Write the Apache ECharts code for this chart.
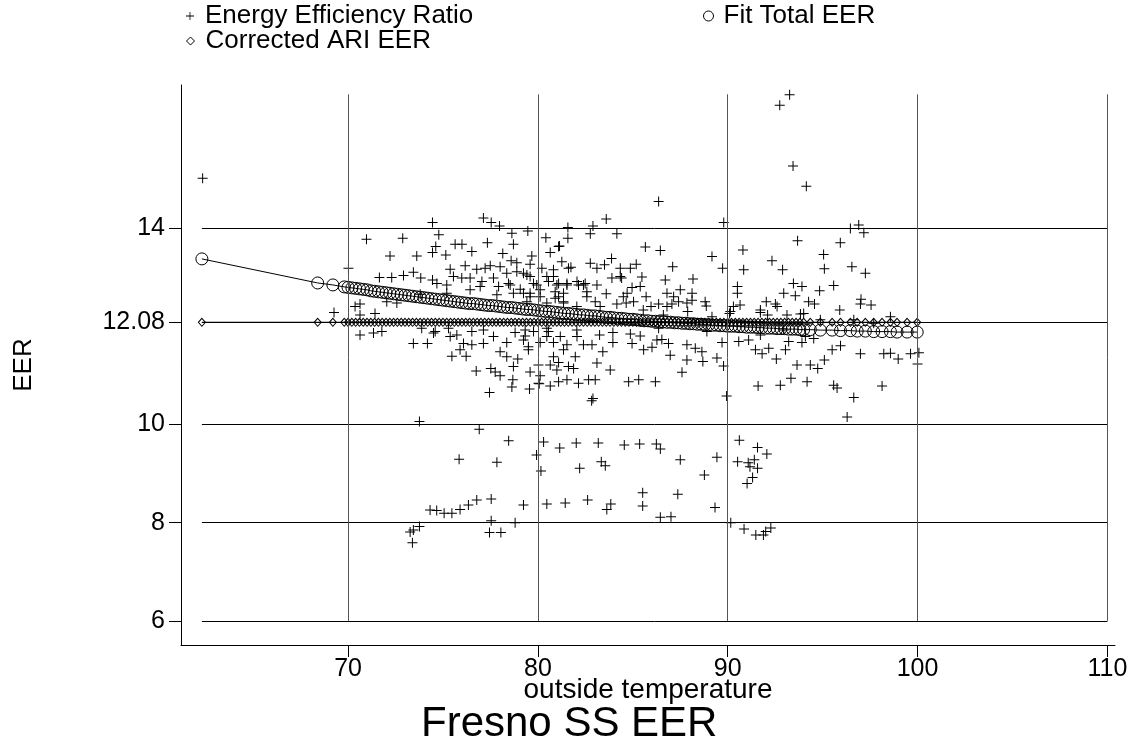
<!DOCTYPE html>
<html>
<head>
<meta charset="utf-8">
<script src="https://cdn.jsdelivr.net/npm/echarts@6/dist/echarts.min.js"></script>
<style>
html,body{margin:0;padding:0;background:#fff;}
#chart{width:1131px;height:743px;}
</style>
</head>
<body>
<div id="chart"></div>
<script>
const FONT = "'Liberation Sans', Arial, Helvetica, sans-serif";

const xTicks = [70, 80, 90, 100, 110];
const yTicks = [6, 8, 10, 12.08, 14];

// extent of the reference grid lines (data range)
const gridXRange = [62.3, 110];
const gridYRange = [6, 16.72];

// Energy Efficiency Ratio observations [outside temperature, EER]
const eerPoints = [
  [62.34,15.01],[74.45,14.11],[77.13,14.20],[77.54,14.11],[77.98,14.04],[78.63,13.89],[79.47,13.94],[81.58,14.01],[81.58,13.79],[80.42,13.80],
  [70.97,13.77],[72.88,13.79],[74.78,13.86],[74.62,13.62],[74.45,13.50],[72.21,13.43],[73.62,13.43],[75.15,13.45],[75.64,13.67],[76.0,13.67],
  [76.52,13.52],[77.34,13.70],[78.71,13.67],[78.15,13.48],[79.68,13.43],[80.65,13.50],[81.09,13.62],[70.02,13.18],[71.65,12.99],[72.30,12.99],
  [72.92,13.03],[73.44,13.10],[73.83,12.98],[74.45,12.94],[74.68,12.87],[75.38,13.16],[76.17,13.23],[76.78,13.16],[77.22,13.18],[77.49,13.23],
  [75.99,12.98],[76.43,12.98],[77.05,12.91],[77.93,12.81],[78.54,12.84],[79.07,12.75],[79.59,13.26],[78.59,13.33],[78.89,13.29],[80.21,13.18],
  [81.26,13.31],[81.61,13.18],[80.56,12.91],[81.53,12.87],[82.06,12.91],
  [70.63,11.82],[71.34,11.86],[71.78,11.89],[69.26,12.28],[70.63,12.23],[70.63,12.45],[70.37,12.40],[71.42,12.26],[72.04,12.50],[72.57,12.47],
  [73.44,11.65],[74.18,11.65],[74.59,11.89],[75.38,11.79],[75.73,11.82],[76.08,11.65],[76.52,11.62],[77.13,11.65],[77.13,11.92],[75.47,11.39],
  [75.9,11.52],[76.22,11.39],[76.75,11.09],[77.52,11.14],[77.75,11.07],[78.01,10.99],[77.45,10.65],[78.63,10.76],[78.68,10.91],[79.56,10.72],
  [78.36,11.67],[78.80,11.87],[79.33,11.80],[79.5,11.58],[78.94,11.33],[78.36,11.38],[79.59,11.07],[80.03,11.21],[80.12,10.99],[80.12,11.67],
  [80.56,11.89],[80.82,11.67],[81.18,11.79],[81.53,11.62],[80.65,11.21],[81.09,11.26],[81.0,11.11],[81.61,11.18],[80.65,10.78],[81.09,10.87],
  [81.53,10.91],[81.97,11.38],[82.06,11.79],
  [79.42,12.50],[81.09,12.60],[81.35,12.50],[79.24,12.67],[77.84,12.64],[75.2,12.67],[73.8,12.65],
  [86.36,14.54],[89.79,14.11],[82.9,14.04],[83.6,14.18],[82.76,13.88],[84.16,13.88],[81.14,13.63],[85.66,13.61],[86.45,13.54],[89.17,13.42],
  [89.73,13.18],[90.80,13.55],[90.84,13.15],[92.33,13.33],[92.89,13.15],[93.68,13.74],[95.05,13.46],[95.09,13.17],[95.93,13.70],[96.46,13.99],
  [96.9,14.06],[97.17,13.90],[96.54,13.21],[97.25,13.08],[95.58,12.83],[94.84,12.72],[93.46,12.87],[93.91,12.81],[93.56,12.62],[92.95,12.67],
  [92.51,12.45],[92.03,12.50],[91.72,12.28],[92.1,12.23],[94.26,12.50],[94.57,12.45],[95.9,12.33],[97.02,12.55],[96.99,12.45],[97.55,12.43],
  [98.57,12.19],[93.83,12.25],[90.51,12.81],[90.51,12.67],[90.3,12.40],[90.65,12.43],[90.09,12.26],[88.81,12.50],[88.87,12.41],[88.17,12.96],
  [88.12,12.67],[87.5,12.74],[87.15,12.60],[87.41,12.50],[86.8,12.67],[87.06,12.45],[86.71,12.94],[87.1,13.21],[85.48,13.0],[85.39,12.81],
  [85.7,12.60],[84.41,12.98],[83.88,13.38],[84.34,13.18],[84.87,13.18],[85.18,13.26],[83.51,13.25],[83.11,13.18],[82.76,13.28],[81.74,13.20],
  [82.4,12.84],[83.11,12.84],[83.9,12.98],[84.34,13.01],[83.6,12.66],[82.58,12.60],[80.91,12.57],[81.35,12.47],[84.7,12.67],[84.96,12.79],
  [84.16,12.45],[84.65,12.47],[85.04,12.50],[86.36,12.45],[85.96,12.40],[88.12,12.53],[87.89,12.30],
  [82.4,11.62],[82.85,11.62],[83.25,11.82],[83.95,11.87],[83.95,11.67],[83.42,11.48],[84.87,11.84],[84.96,11.65],[85.39,11.80],[85.57,11.52],
  [86.01,11.57],[86.27,11.72],[86.53,11.73],[86.88,11.65],[86.97,11.41],[87.85,11.62],[87.59,11.06],[87.85,11.31],[88.29,11.55],[88.64,11.48],
  [88.69,11.28],[89.43,11.35],[89.7,11.67],[89.78,11.19],[90.58,11.69],[91.1,11.72],[91.46,11.52],[91.81,11.44],[92.16,11.55],[92.56,11.33],
  [93.04,11.52],[93.21,11.69],[93.65,11.21],[93.91,11.67],[94.35,11.21],[94.74,11.14],[95.09,11.31],[95.5,11.52],[95.94,11.60],[96.99,11.44],
  [98.22,11.44],[98.57,11.45],[98.98,11.33],[99.63,11.44],[100.07,11.46],[100.0,11.23],[91.6,10.78],[92.77,10.80],[93.33,10.94],[94.18,10.87],
  [95.58,10.80],[95.76,10.74],[96.64,10.55],[98.13,10.78],[89.94,10.58],[82.9,10.53],[83.11,11.25],[82.14,10.84],[82.67,10.91],[83.02,10.91],
  [84.78,10.87],[85.31,10.91],[86.19,10.87],[83.81,11.11],[81.88,11.14],
  [73.76,10.06],[76.91,9.90],[78.46,9.67],[80.3,9.64],[81.15,9.52],[82.02,9.62],[79.93,9.38],[80.16,9.05],[75.85,9.29],[77.84,9.23],
  [82.2,9.11],[74.32,8.26],[74.67,8.25],[75.06,8.19],[75.47,8.19],[75.9,8.27],[76.34,8.36],[76.78,8.46],[77.54,8.48],[79.24,8.36],
  [80.47,8.38],[81.44,8.40],[77.54,8.04],[78.80,8.0],[77.45,7.80],[78.05,7.80],[73.27,7.81],[73.44,7.85],[73.76,7.92],[73.39,7.59],
  [80.07,10.83],[82.83,10.48],[96.29,10.15],[83.18,9.62],[84.55,9.58],[85.36,9.60],[86.24,9.60],[86.45,9.50],[83.34,9.24],[83.55,9.16],
  [87.50,9.28],[89.43,9.33],[88.77,8.97],[90.61,9.68],[91.57,9.53],[92.06,9.40],[90.52,9.24],[91.08,9.22],[91.40,9.28],[91.17,9.14],
  [91.57,9.11],[91.31,8.92],[91.02,8.80],[82.62,8.46],[83.84,8.38],[83.63,8.27],[85.52,8.61],[85.52,8.34],[87.37,8.58],[89.33,8.31],
  [86.45,8.11],[87.01,8.12],[90.16,8.0],[90.86,7.87],[91.48,7.75],[91.88,7.75],[92.0,7.82],[92.27,7.89],
  [92.74,16.50],[93.26,16.71],[93.44,15.26],[94.14,14.85],
  [79.24,13.08],[79.59,13.01],[79.94,12.84],[80.82,13.01],[81.09,12.87],[81.53,12.84],[82.14,12.84],[82.49,12.87],[80.91,12.70],[81.35,12.67],
  [82.58,12.70],[83.02,12.50],[83.28,12.40],[82.05,12.40],[79.59,12.67],[80.12,12.60],[80.47,12.47],[84.5,12.60],[85.55,12.33],[86.61,12.23],
  [86.8,12.40],[87.85,12.47],[89.17,12.19],[90.14,12.30],[91.72,12.33],[92.6,12.40],[93.12,12.23],[94.0,12.26],[94.88,12.13],[96.64,12.13],
  [97.69,12.06],[79.33,11.92],[80.47,11.96],[82.05,11.92],[86.36,11.96],[88.9,11.89],[91.72,11.82],[92.95,11.92],[94.09,11.79],[94.53,11.75],
  [75.55,13.01],[76.96,12.81],[77.66,12.98],[78.45,12.87],[78.71,12.67],[79.59,12.60],[80.12,12.74],[80.47,13.01],[81.0,12.84],[79.42,13.04],
  [79.77,12.87],[80.82,13.15],[78.01,13.21],[78.36,13.08],[78.89,13.11],[75.2,12.84],[76.43,12.74],
  [73.88,11.96],[74.5,11.86],[75.29,11.96],[76.52,11.89],[77.66,11.79],[79.24,11.72],[79.77,11.89],[80.47,11.79],[81.35,11.52],[80.82,11.38],
  [79.5,11.52],[78.01,11.48],[78.71,11.18],[80.03,10.84]
];

// fitted curve and corrected ARI value, read at observation temperatures
const fitTemps = [
  62.3,68.4,69.2,
  69.8,70.0,70.2,70.4,70.6,70.8,71.0,71.2,71.4,71.6,
  71.8,72.0,72.2,72.4,72.6,72.8,73.0,73.2,73.4,73.6,
  73.8,74.0,74.2,74.4,74.6,74.8,75.0,75.2,75.4,75.6,
  75.8,76.0,76.2,76.4,76.6,76.8,77.0,77.2,77.4,77.6,
  77.8,78.0,78.2,78.4,78.6,78.8,79.0,79.2,79.4,79.6,
  79.8,80.0,80.2,80.4,80.6,80.8,81.0,81.2,81.4,81.6,
  81.8,82.0,82.2,82.4,82.6,82.8,83.0,83.2,83.4,83.6,
  83.8,84.0,84.2,84.4,84.6,84.8,85.0,85.2,85.4,85.6,
  85.8,86.0,86.2,86.4,86.6,86.8,87.0,87.2,87.4,87.6,
  87.8,88.0,88.2,88.4,88.6,88.8,89.0,89.2,89.4,89.6,
  89.8,90.0,90.2,90.4,90.6,90.8,91.0,91.2,91.4,91.6,
  91.8,92.0,92.2,92.4,92.6,92.8,93.0,93.2,93.4,93.6,
  93.8,94.0,
  94.35,94.88,95.5,95.94,96.46,96.82,97.25,97.69,98.13,98.57,
  98.92,99.45,99.98
];
const fitEER = [
  13.37,12.88,12.84,
  12.80,12.79,12.78,12.77,12.76,12.75,12.74,12.72,12.71,12.70,
  12.69,12.68,12.67,12.66,12.65,12.64,12.63,12.62,12.61,12.60,
  12.59,12.58,12.57,12.56,12.55,12.54,12.53,12.52,12.51,12.50,
  12.49,12.48,12.47,12.46,12.46,12.45,12.44,12.43,12.42,12.42,
  12.41,12.40,12.39,12.38,12.38,12.37,12.36,12.35,12.34,12.34,
  12.33,12.32,12.31,12.30,12.30,12.29,12.28,12.27,12.26,12.26,
  12.25,12.24,12.23,12.23,12.22,12.21,12.21,12.20,12.19,12.18,
  12.18,12.17,12.16,12.16,12.15,12.14,12.14,12.13,12.12,12.11,
  12.11,12.10,12.10,12.09,12.09,12.08,12.08,12.07,12.07,12.06,
  12.06,12.05,12.05,12.04,12.04,12.03,12.03,12.02,12.02,12.01,
  12.01,12.00,12.00,12.00,11.99,11.99,11.98,11.98,11.98,11.97,
  11.97,11.96,11.96,11.96,11.95,11.95,11.95,11.94,11.94,11.94,
  11.93,11.93,
  11.93,11.92,11.92,11.91,11.91,11.90,11.90,11.89,11.89,11.89,
  11.88,11.88,11.88
];
const ariEER = [
  12.08,12.08,12.08,
  12.08,12.08,12.08,12.08,12.08,12.08,12.08,12.08,12.08,12.08,
  12.08,12.08,12.08,12.08,12.08,12.08,12.08,12.08,12.08,12.08,
  12.08,12.08,12.08,12.08,12.08,12.08,12.08,12.08,12.08,12.08,
  12.08,12.08,12.08,12.08,12.08,12.08,12.08,12.08,12.08,12.08,
  12.08,12.08,12.08,12.08,12.08,12.08,12.08,12.08,12.08,12.08,
  12.08,12.08,12.08,12.08,12.08,12.08,12.08,12.08,12.08,12.08,
  12.08,12.08,12.08,12.08,12.08,12.08,12.08,12.08,12.08,12.08,
  12.08,12.08,12.08,12.08,12.08,12.08,12.08,12.08,12.08,12.08,
  12.08,12.08,12.08,12.08,12.08,12.08,12.08,12.08,12.08,12.08,
  12.08,12.08,12.08,12.08,12.08,12.08,12.08,12.08,12.08,12.08,
  12.08,12.08,12.08,12.08,12.08,12.08,12.08,12.08,12.08,12.08,
  12.08,12.08,12.08,12.08,12.08,12.08,12.08,12.08,12.08,12.08,
  12.08,12.08,
  12.08,12.08,12.08,12.08,12.08,12.08,12.08,12.08,12.08,12.08,
  12.08,12.08,12.08
];

const PLUS = 'path://M0,4.5H10V5.5H0Z M4.5,0H5.5V10H4.5Z';

const hGrid = yTicks.map(v => [{coord: [gridXRange[0], v]}, {coord: [gridXRange[1], v]}]);
const vGrid = xTicks.map(v => [{coord: [v, gridYRange[0]]}, {coord: [v, gridYRange[1]]}]);

const chart = echarts.init(document.getElementById('chart'), null, {renderer: 'canvas'});
chart.setOption({
  animation: false,
  backgroundColor: '#fff',
  textStyle: {fontFamily: FONT, color: '#000'},
  title: {
    text: 'Fresno SS EER',
    left: 421, top: 703, padding: 0,
    textStyle: {fontFamily: FONT, fontSize: 42, fontWeight: 'normal', color: '#000'}
  },
  legend: [
    {data: [{name: 'Energy Efficiency Ratio', icon: PLUS, itemStyle: {color: '#000'}}],
     left: 186, top: 3, padding: 0, itemWidth: 8, itemHeight: 8, selectedMode: false,
     textStyle: {fontFamily: FONT, fontSize: 26, color: '#000', padding: [0, 0, 0, 6]}},
    {data: [{name: 'Fit Total EER', icon: 'circle', itemStyle: {color: 'transparent', borderColor: '#000', borderWidth: 1}}],
     left: 703, top: 3, padding: 0, itemWidth: 10, itemHeight: 10, selectedMode: false,
     textStyle: {fontFamily: FONT, fontSize: 26, color: '#000', padding: [0, 0, 0, 5]}},
    {data: [{name: 'Corrected ARI EER', icon: 'diamond', itemStyle: {color: 'transparent', borderColor: '#000', borderWidth: 1}}],
     left: 186, top: 28, padding: 0, itemWidth: 8, itemHeight: 8, selectedMode: false,
     textStyle: {fontFamily: FONT, fontSize: 26, color: '#000', padding: [0, 0, 0, 6]}}
  ],
  grid: {left: 181, right: 16, top: 85, bottom: 98, containLabel: false},
  xAxis: {
    type: 'value', min: 61.2, max: 110.4,
    name: 'outside temperature', nameLocation: 'middle', nameGap: 31, nameMoveOverlap: false,
    nameTextStyle: {fontFamily: FONT, fontSize: 28, color: '#000'},
    axisLine: {show: true, onZero: false, lineStyle: {color: '#000', width: 1}},
    axisTick: {show: true, length: 12, inside: false, customValues: xTicks, lineStyle: {color: '#000'}},
    axisLabel: {customValues: xTicks, fontFamily: FONT, fontSize: 25, color: '#000', margin: 12},
    splitLine: {show: false}
  },
  yAxis: {
    type: 'value', min: 5.51, max: 16.91,
    name: 'EER', nameLocation: 'middle', nameGap: 144, nameMoveOverlap: false,
    nameTextStyle: {fontFamily: FONT, fontSize: 26, color: '#000'},
    axisLine: {show: true, onZero: false, lineStyle: {color: '#000', width: 1}},
    axisTick: {show: true, length: 12, inside: false, customValues: yTicks, lineStyle: {color: '#000'}},
    axisLabel: {customValues: yTicks, fontFamily: FONT, fontSize: 25, color: '#000', margin: 16,
      formatter: v => String(v)},
    splitLine: {show: false}
  },
  tooltip: {show: false},
  series: [
    {name: 'hgrid', type: 'scatter', data: [], z: 1, silent: true,
     markLine: {silent: true, symbol: ['none', 'none'], label: {show: false}, animation: false,
       lineStyle: {color: '#000', width: 1, type: 'solid'}, emphasis: {disabled: true}, data: hGrid}},
    {name: 'vgrid', type: 'scatter', data: [], z: 1, silent: true,
     markLine: {silent: true, symbol: ['none', 'none'], label: {show: false}, animation: false,
       lineStyle: {color: '#555', width: 1, type: 'solid'}, emphasis: {disabled: true}, data: vGrid}},
    {name: 'Energy Efficiency Ratio', type: 'scatter', z: 3,
     symbol: PLUS, symbolSize: 10,
     itemStyle: {color: '#000', opacity: 1},
     data: eerPoints},
    {name: 'Fit Total EER', type: 'line', z: 4,
     symbol: 'circle', symbolSize: 12, showAllSymbol: true,
     itemStyle: {color: 'transparent', borderColor: '#000', borderWidth: 1},
     lineStyle: {color: '#000', width: 1},
     data: fitTemps.map((t, i) => [t, fitEER[i]])},
    {name: 'Corrected ARI EER', type: 'line', z: 4,
     symbol: 'diamond', symbolSize: [7, 8], showAllSymbol: true,
     itemStyle: {color: 'transparent', borderColor: '#000', borderWidth: 1},
     lineStyle: {color: '#000', width: 1},
     data: fitTemps.map((t, i) => [t, ariEER[i]])}
  ]
});
</script>
</body>
</html>
